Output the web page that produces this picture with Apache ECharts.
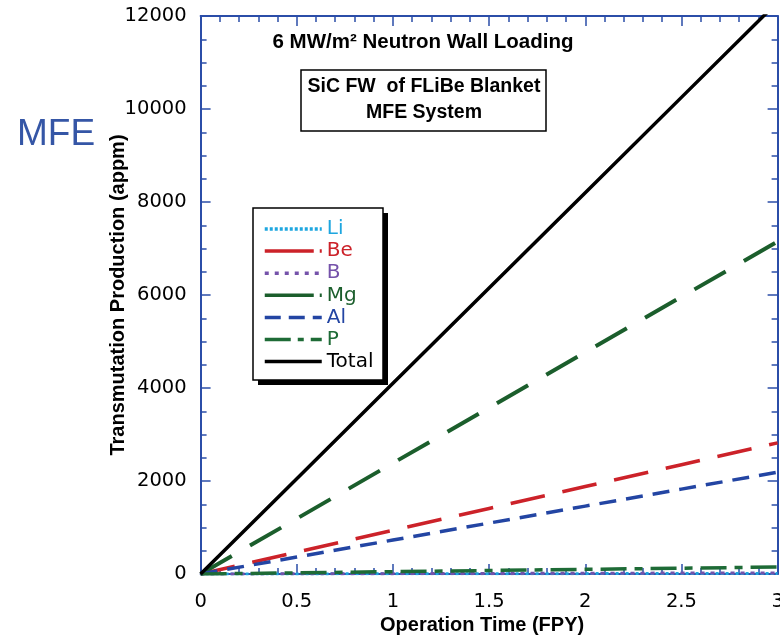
<!DOCTYPE html>
<html>
<head>
<meta charset="utf-8">
<script src="https://cdn.jsdelivr.net/npm/echarts@6/dist/echarts.min.js"></script>
<style>
html,body{margin:0;padding:0;background:#fff;}
#chart{width:780px;height:638px;}
</style>
</head>
<body>
<div id="chart"></div>
<script>
// ---- data ----
const xValues   = [0, 0.5, 1, 1.5, 2, 2.5, 3];
const liValues  = [0, 2, 4, 6, 8, 10, 12];
const beValues  = [0, 470, 940, 1410, 1880, 2350, 2820];
const bValues   = [0, 4, 8, 12, 16, 20, 24];
const mgValues  = [0, 1190, 2385, 3575, 4770, 5960, 7150];
const alValues  = [0, 365, 730, 1095, 1460, 1825, 2190];
const pValues   = [0, 25, 50, 75, 100, 125, 150];
const totValues = [0, 2050, 4100, 6150, 8200, 10250, 12300];
const seriesNames = ['Li', 'Be', 'B', 'Mg', 'Al', 'P', 'Total'];
const xTicks = ['0', '0.5', '1', '1.5', '2', '2.5', '3'];
const yTicks = ['0', '2000', '4000', '6000', '8000', '10000', '12000'];

const axisBlue = '#2b4da8';
const colors = {
  Li: '#1ea6df', Be: '#cc2229', B: '#7552aa', Mg: '#1b5e2c',
  Al: '#2345a3', P: '#1e6b36', Total: '#000000'
};
const styles = {
  Li:    {width: 3, type: [3, 2]},
  Be:    {width: 3.5, type: [35, 18]},
  B:     {width: 3, type: [4, 6]},
  Mg:    {width: 4, type: [36, 21]},
  Al:    {width: 3.5, type: [17, 10]},
  P:     {width: 3.5, type: [26, 8, 8, 8]},
  Total: {width: 3.5, type: 'solid'}
};
const legendDash = {
  Li: [3, 2], Be: [49, 6, 4, 6], B: [4, 6], Mg: [49, 6, 4, 6],
  Al: [16, 8], P: [26, 7, 6, 7], Total: 'solid'
};
const valuesByName = {
  Li: liValues, Be: beValues, B: bValues, Mg: mgValues,
  Al: alValues, P: pValues, Total: totValues
};

function pairs(ys) { return xValues.map((x, i) => [x, ys[i]]); }

const font = 'Liberation Sans, Arial, Helvetica, sans-serif';
const tickFont = 'DejaVu Sans, Liberation Sans, sans-serif';

const commonAxis = {
  axisLine: {show: true, onZero: false, lineStyle: {color: axisBlue, width: 2}},
  axisTick: {show: true, inside: true, length: 10, lineStyle: {color: axisBlue, width: 1.5}},
  minorTick: {show: true, splitNumber: 5, length: 6, lineStyle: {color: axisBlue, width: 1.5}},
  splitLine: {show: false}
};

const chart = echarts.init(document.getElementById('chart'), null, {renderer: 'canvas'});

const option = {
  animation: false,
  backgroundColor: '#ffffff',
  grid: {left: 200.6, right: 2.4, top: 16, bottom: 64, containLabel: false, outerBoundsMode: 'none'},
  xAxis: [
    Object.assign({}, commonAxis, {
      type: 'value', position: 'bottom', min: 0, max: 3, interval: 0.5,
      name: 'Operation Time (FPY)', nameLocation: 'middle', nameGap: 41,
      nameMoveOverlap: false,
      nameTextStyle: {fontFamily: font, fontSize: 20, fontWeight: 'bold', color: '#000', padding: [0, 14, 0, 0]},
      axisLabel: {margin: 17.5, fontFamily: tickFont, fontSize: 19.5, color: '#000',
        formatter: (v) => { const i = xValues.indexOf(v); return i >= 0 ? xTicks[i] : ''; }}
    }),
    Object.assign({}, commonAxis, {
      type: 'value', position: 'top', min: 0, max: 3, interval: 0.5,
      axisLabel: {show: false}
    })
  ],
  yAxis: [
    Object.assign({}, commonAxis, {
      type: 'value', position: 'left', min: 0, max: 12000, interval: 2000,
      minorTick: Object.assign({}, commonAxis.minorTick, {splitNumber: 4}),
      name: 'Transmutation Production (appm)', nameLocation: 'middle', nameGap: 72,
      nameMoveOverlap: false,
      nameTextStyle: {fontFamily: font, fontSize: 20, fontWeight: 'bold', color: '#000'},
      axisLabel: {margin: 14, fontFamily: tickFont, fontSize: 19.5, color: '#000',
        formatter: (v) => yTicks[Math.round(v / 2000)] || ''}
    }),
    Object.assign({}, commonAxis, {
      type: 'value', position: 'right', min: 0, max: 12000, interval: 2000,
      minorTick: Object.assign({}, commonAxis.minorTick, {splitNumber: 4}),
      axisLabel: {show: false}
    })
  ],
  legend: {
    orient: 'vertical',
    left: 253, top: 208,
    padding: [11, 21, 10, 10],
    itemWidth: 57, itemHeight: 16, itemGap: 2.1,
    z: 10,
    selectedMode: false,
    itemStyle: {opacity: 0},
    textStyle: {fontFamily: tickFont, fontSize: 20, lineHeight: 16},
    data: seriesNames.map(n => ({
      name: n,
      textStyle: {color: colors[n]},
      lineStyle: {color: colors[n], width: 3.5, type: legendDash[n]}
    }))
  },
  graphic: [
    {
      type: 'text', left: 17, top: 116,
      style: {text: 'MFE', fontFamily: font, fontSize: 37, fill: '#3556a6'}
    },
    {
      type: 'text', x: 423, y: 42,
      style: {text: '6 MW/m² Neutron Wall Loading', fontFamily: font, fontSize: 20.5,
        fontWeight: 'bold', fill: '#000', align: 'center', verticalAlign: 'middle'}
    },
    {
      type: 'rect', shape: {x: 301, y: 70, width: 245, height: 61},
      style: {fill: '#fff', stroke: '#000', lineWidth: 1.5}
    },
    {
      type: 'text', x: 424, y: 100,
      style: {text: 'SiC FW  of FLiBe Blanket\nMFE System', fontFamily: font, fontSize: 19.5,
        fontWeight: 'bold', fill: '#000', align: 'center', verticalAlign: 'middle', lineHeight: 26}
    },
    {
      type: 'rect', z: 5, shape: {x: 258, y: 213, width: 130, height: 172},
      style: {fill: '#000'}
    },
    {
      type: 'rect', z: 6, shape: {x: 253, y: 208, width: 130, height: 172},
      style: {fill: '#fff', stroke: '#000', lineWidth: 1.5}
    }
  ],
  series: seriesNames.map(n => ({
    name: n,
    type: 'line',
    xAxisIndex: 0, yAxisIndex: 0,
    data: pairs(valuesByName[n]),
    showSymbol: false, symbol: 'none',
    clip: true,
    z: n === 'Total' ? 3 : 2,
    lineStyle: {color: colors[n], width: styles[n].width, type: styles[n].type, cap: 'butt'},
    itemStyle: {color: colors[n]}
  }))
};
chart.setOption(option);
</script>
</body>
</html>
